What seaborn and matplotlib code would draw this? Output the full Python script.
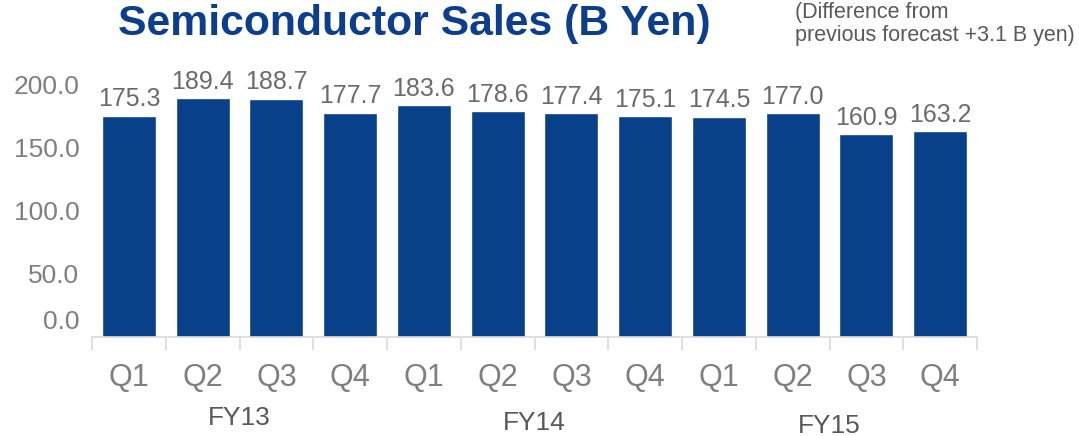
import pandas as pd
import matplotlib
matplotlib.use("Agg")
from matplotlib import pyplot as plt
from matplotlib import transforms
import seaborn as sns

quarters = ['Q1', 'Q2', 'Q3', 'Q4'] * 3
fiscal_years = ['FY13', 'FY14', 'FY15']
sales = [175.3, 189.4, 188.7, 177.7, 183.6, 178.6, 177.4, 175.1, 174.5, 177.0, 160.9, 163.2]
y_ticks = [0, 50, 100, 150, 200]

df = pd.DataFrame({
    'slot': range(len(sales)),
    'quarter': quarters,
    'fy': [fy for fy in fiscal_years for _ in range(4)],
    'sales': sales,
})

sns.set_style('white')
plt.rcParams['font.family'] = ['Liberation Sans', 'DejaVu Sans']

bar_color = '#08408a'
grey = '#7f7f7f'

fig = plt.figure(figsize=(10.79, 4.36), dpi=100)
ax = fig.add_axes([0.0853, 0.227, 0.8202, 0.594])

sns.barplot(data=df, x='slot', y='sales', color=bar_color, width=0.73,
            saturation=1, ax=ax)

ax.set_xlim(-0.5, len(sales) - 0.5)
ax.set_ylim(0, 205)

# value labels
for p, v in zip(ax.patches, sales):
    ax.annotate('{:.1f}'.format(v), (p.get_x() + p.get_width() / 2, p.get_height()),
                xytext=(0, 3), textcoords='offset points',
                ha='center', va='bottom', fontsize=18, color='#6b6b6b')

# x axis: quarter labels at centres, tick marks at boundaries
ax.set_xticks(range(len(sales)))
ax.set_xticklabels(quarters)
ax.set_xticks([i - 0.5 for i in range(len(sales) + 1)], minor=True)
ax.tick_params(axis='x', which='major', length=0, pad=19, labelsize=22, labelcolor=grey)
ax.tick_params(axis='x', which='minor', length=9, width=1.2, color='#d9d9d9', bottom=True)
ax.set_xlabel('')

# y axis
ax.set_yticks(y_ticks)
ax.set_yticklabels(['{:.1f}'.format(t) if t else '' for t in y_ticks])
ax.tick_params(axis='y', length=0, pad=9, labelsize=19, labelcolor=grey)
ax.set_ylabel('')
zero_off = transforms.ScaledTranslation(-13 / 100, 15 / 100, fig.dpi_scale_trans)
ax.text(0, 0, '{:.1f}'.format(y_ticks[0]),
        transform=transforms.blended_transform_factory(ax.transAxes, ax.transData) + zero_off,
        ha='right', va='center', fontsize=19, color=grey)

sns.despine(ax=ax, left=True)
ax.spines['bottom'].set_color('#d9d9d9')
ax.spines['bottom'].set_linewidth(1.2)

# fiscal year group labels
fy_y = [0.041, 0.030, 0.023]
trans = transforms.blended_transform_factory(ax.transData, fig.transFigure)
for i, (fy, yy) in enumerate(zip(fiscal_years, fy_y)):
    ax.text(i * 4 + 1.5, yy, fy, transform=trans, ha='center', va='center',
            fontsize=19, color='#595959')

fig.text(0.384, 0.945, 'Semiconductor Sales (B Yen)', ha='center', va='center',
         fontsize=30.8, fontweight='bold', color='#0b3f8d')
fig.text(0.737, 0.995, '(Difference from\nprevious forecast +3.1 B yen)',
         ha='left', va='top', fontsize=15.5, color='#595959', linespacing=1.1)

fig.savefig('out.png', dpi=100)
